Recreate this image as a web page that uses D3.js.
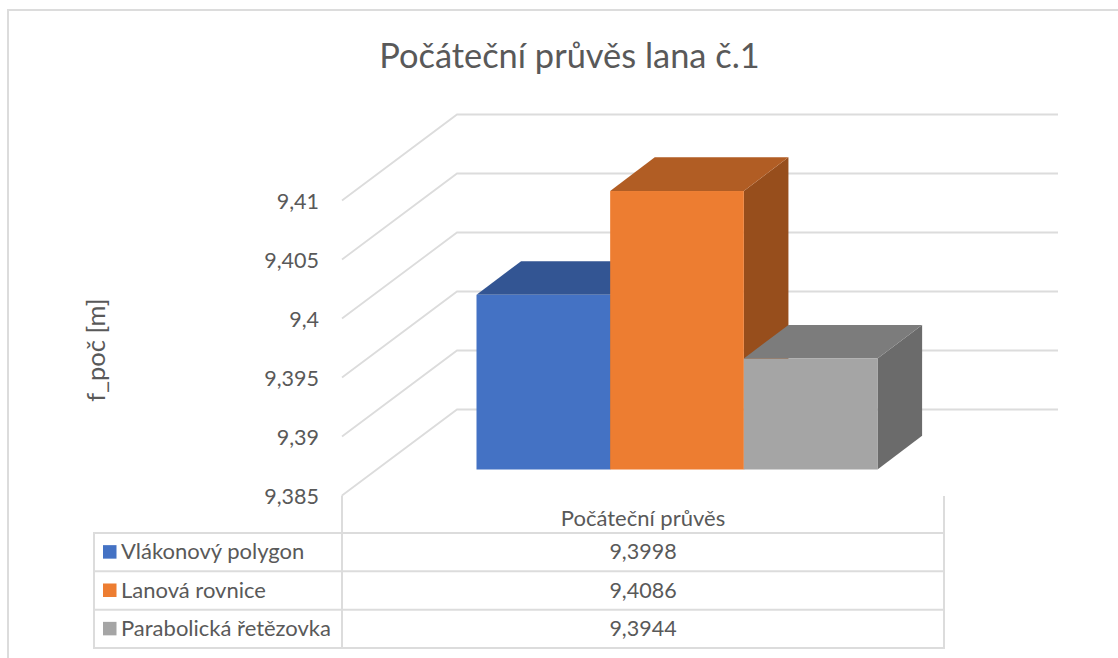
<!DOCTYPE html>
<html><head><meta charset="utf-8">
<script src="https://cdn.jsdelivr.net/npm/d3@7"></script>
<style>html,body{margin:0;padding:0;background:#fff;overflow:hidden}svg{display:block}text{font-family:Lato,"Open Sans",sans-serif;fill:#595959}</style>
</head><body><svg id="c" width="1118" height="658"></svg>
<script>
const title = "Počáteční průvěs lana č.1";
const yTitle = "f_poč [m]";
const category = "Počáteční průvěs";
const seriesNames = ["Vlákonový polygon","Lanová rovnice","Parabolická řetězovka"];
const seriesValues = [9.3998,9.4086,9.3944];
const valueLabels = ["9,3998","9,4086","9,3944"];
const colors = ["#4472c4","#ed7d31","#a5a5a5"];
const topColors = ["#335593","#b15d24","#7c7c7c"];
const sideColors = ["#2a4675","#974e1c","#6b6b6b"];
const ticks = [9.385,9.39,9.395,9.4,9.405,9.41];
const tickLabels = ["9,385","9,39","9,395","9,4","9,405","9,41"];

const svg = d3.select("#c");
const grid = "#dcdcdc";
// back-wall vertical scale; other depth planes are offsets of it
const y = d3.scaleLinear().domain([9.385,9.41]).range([409.5,114.5]);
const wallFront = {x:342,dy:86}, wallBack = {x:457,dy:0};
const barFront = 60, depthX = 44.6, depthY = 33.7;
const xBand = d3.scaleBand().domain(seriesNames).range([476.5,877.5]);

svg.append("rect").attr("x",8).attr("y",10).attr("width",1200).attr("height",800)
  .attr("fill","none").attr("stroke",grid).attr("stroke-width",2);

svg.append("text").attr("x",569.5).attr("y",68).attr("text-anchor","middle")
  .attr("font-size",34.4).text(title);

// gridlines
ticks.forEach((t,i)=>{
  svg.append("polyline").attr("fill","none").attr("stroke",grid).attr("stroke-width",1.8)
    .attr("points",[[wallFront.x,y(t)+wallFront.dy],[wallBack.x,y(t)],[1058,y(t)]].join(" "));
  svg.append("text").attr("x",319).attr("y",y(t)+wallFront.dy+8).attr("text-anchor","end")
    .attr("font-size",21.5).text(tickLabels[i]);
});

// bars
seriesNames.forEach((s,i)=>{
  const x0=xBand(s), x1=x0+xBand.bandwidth(), v=seriesValues[i];
  const top=y(v)+barFront, base=y(9.385)+barFront;
  const g=svg.append("g");
  g.append("polygon").attr("fill",sideColors[i])
    .attr("points",[[x1,top],[x1+depthX,top-depthY],[x1+depthX,base-depthY],[x1,base]].join(" "));
  g.append("polygon").attr("fill",topColors[i])
    .attr("points",[[x0,top],[x0+depthX,top-depthY],[x1+depthX,top-depthY],[x1,top]].join(" "));
  g.append("rect").attr("x",x0).attr("y",top).attr("width",x1-x0).attr("height",base-top).attr("fill",colors[i]);
});

// data table
const rowY=[533,571.3,609.7,648];
const tbl=svg.append("g").attr("stroke",grid).attr("stroke-width",2);
rowY.forEach(r=>tbl.append("line").attr("x1",94).attr("x2",944).attr("y1",r).attr("y2",r));
tbl.append("line").attr("x1",94).attr("x2",94).attr("y1",532).attr("y2",649);
tbl.append("line").attr("x1",342).attr("x2",342).attr("y1",y(9.385)+86).attr("y2",649);
tbl.append("line").attr("x1",944).attr("x2",944).attr("y1",496).attr("y2",649);

svg.append("text").attr("x",643).attr("y",525.5).attr("text-anchor","middle").attr("font-size",22).text(category);
seriesNames.forEach((s,i)=>{
  const cy=(rowY[i]+rowY[i+1])/2;
  svg.append("rect").attr("x",103).attr("y",cy-7).attr("width",13.5).attr("height",13.5).attr("fill",colors[i]);
  const lbl=svg.append("text").attr("x",121).attr("y",cy+7).attr("font-size",22).text(s);
  if(lbl.node().getComputedTextLength()>213) lbl.attr("textLength",213).attr("lengthAdjust","spacingAndGlyphs");
  svg.append("text").attr("x",643).attr("y",cy+7).attr("text-anchor","middle").attr("font-size",21.5).text(valueLabels[i]);
});

svg.append("text").attr("transform","translate(105,350) rotate(-90)").attr("text-anchor","middle")
  .attr("font-size",25.5).text(yTitle);
</script></body></html>
